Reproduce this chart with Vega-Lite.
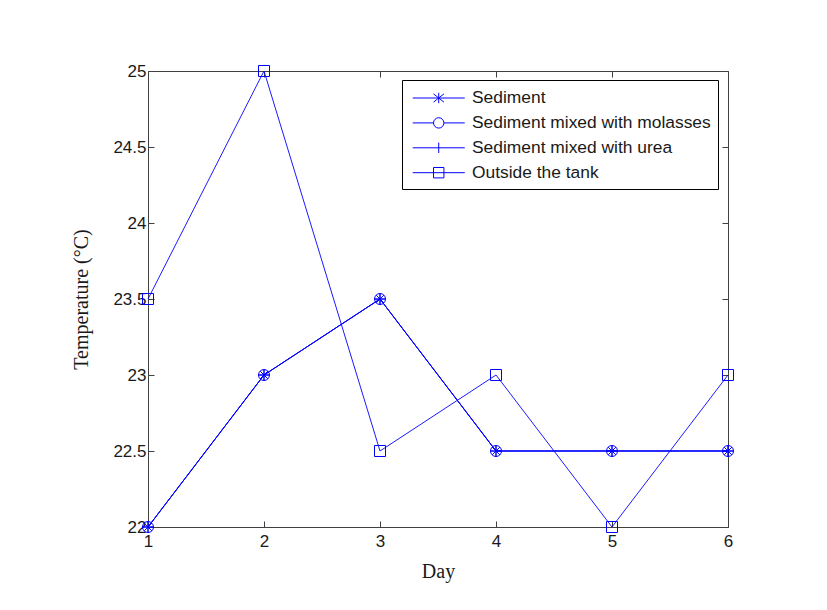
{
  "$schema": "https://vega.github.io/schema/vega-lite/v6.json",
  "autosize": {"type": "none"},
  "width": 580,
  "height": 456,
  "padding": {"left": 148, "top": 71, "right": 99, "bottom": 83},
  "background": "white",
  "config": {
    "view": {"stroke": null},
    "axis": {
      "domainColor": "#404040",
      "tickColor": "#404040",
      "domainWidth": 1,
      "tickWidth": 1,
      "grid": false,
      "labelFont": "Liberation Sans",
      "labelFontSize": 17,
      "labelColor": "#1a1a1a",
      "titleFont": "Liberation Serif",
      "titleFontSize": 20,
      "titleFontWeight": "normal",
      "titleColor": "#1a1a1a",
      "labelOverlap": false,
      "labelBound": false,
      "labelFlush": false
    }
  },
  "data": {
    "values": [
      {"series": "Sediment", "day": 1, "temp": 22},
      {"series": "Sediment", "day": 2, "temp": 23},
      {"series": "Sediment", "day": 3, "temp": 23.5},
      {"series": "Sediment", "day": 4, "temp": 22.5},
      {"series": "Sediment", "day": 5, "temp": 22.5},
      {"series": "Sediment", "day": 6, "temp": 22.5},
      {"series": "Sediment mixed with molasses", "day": 1, "temp": 22},
      {"series": "Sediment mixed with molasses", "day": 2, "temp": 23},
      {"series": "Sediment mixed with molasses", "day": 3, "temp": 23.5},
      {"series": "Sediment mixed with molasses", "day": 4, "temp": 22.5},
      {"series": "Sediment mixed with molasses", "day": 5, "temp": 22.5},
      {"series": "Sediment mixed with molasses", "day": 6, "temp": 22.5},
      {"series": "Sediment mixed with urea", "day": 1, "temp": 22},
      {"series": "Sediment mixed with urea", "day": 2, "temp": 23},
      {"series": "Sediment mixed with urea", "day": 3, "temp": 23.5},
      {"series": "Sediment mixed with urea", "day": 4, "temp": 22.5},
      {"series": "Sediment mixed with urea", "day": 5, "temp": 22.5},
      {"series": "Sediment mixed with urea", "day": 6, "temp": 22.5},
      {"series": "Outside the tank", "day": 1, "temp": 23.5},
      {"series": "Outside the tank", "day": 2, "temp": 25},
      {"series": "Outside the tank", "day": 3, "temp": 22.5},
      {"series": "Outside the tank", "day": 4, "temp": 23},
      {"series": "Outside the tank", "day": 5, "temp": 22},
      {"series": "Outside the tank", "day": 6, "temp": 23}
    ]
  },
  "layer": [
    {
      "mark": {"type": "line", "color": "#0000ff", "strokeWidth": 0.9},
      "encoding": {
        "x": {"field": "day", "type": "quantitative", "scale": {"domain": [1, 6], "nice": false, "zero": false},
              "axis": {"orient": "bottom", "values": [1, 2, 3, 4, 5, 6], "format": "d", "tickSize": -6, "labelPadding": 12, "title": "Day", "titlePadding": 12}},
        "y": {"field": "temp", "type": "quantitative", "scale": {"domain": [22, 25], "nice": false, "zero": false},
              "axis": {"orient": "left", "values": [22, 22.5, 23, 23.5, 24, 24.5, 25], "format": "~g", "tickSize": -6, "labelPadding": 8, "title": "Temperature (°C)", "titlePadding": 21}},
        "detail": {"field": "series"}
      }
    },
    {
      "mark": {"type": "point", "color": "#0000ff", "filled": false, "size": 121, "strokeWidth": 1, "opacity": 1},
      "encoding": {
        "x": {"field": "day", "type": "quantitative", "scale": {"domain": [1, 6], "nice": false, "zero": false},
              "axis": {"orient": "top", "values": [1, 2, 3, 4, 5, 6], "labels": false, "tickSize": -6, "title": null}},
        "y": {"field": "temp", "type": "quantitative", "scale": {"domain": [22, 25], "nice": false, "zero": false},
              "axis": {"orient": "right", "values": [22, 22.5, 23, 23.5, 24, 24.5, 25], "labels": false, "tickSize": -6, "title": null}},
        "shape": {"field": "series", "type": "nominal",
          "scale": {"domain": ["Sediment", "Sediment mixed with molasses", "Sediment mixed with urea", "Outside the tank"],
                    "range": ["M0,-1L0,1M-1,0L1,0M-0.7,-0.7L0.7,0.7M-0.7,0.7L0.7,-0.7",
                              "M1,0A1,1 0 1,1 -1,0A1,1 0 1,1 1,0Z",
                              "M0,-1L0,1M-1,0L1,0",
                              "M-1,-1L1,-1L1,1L-1,1Z"]},
          "legend": null}
      }
    },
    {
      "transform": [{"filter": "datum.day > 100"}],
      "mark": {"type": "point", "color": "#0000ff", "filled": false, "size": 433, "strokeWidth": 1},
      "encoding": {
        "x": {"field": "day", "type": "quantitative", "scale": {"domain": [1, 6], "nice": false, "zero": false}, "axis": null},
        "y": {"field": "temp", "type": "quantitative", "scale": {"domain": [22, 25], "nice": false, "zero": false}, "axis": null},
        "shape": {"field": "series", "type": "nominal",
          "scale": {"domain": ["Sediment", "Sediment mixed with molasses", "Sediment mixed with urea", "Outside the tank"],
                    "range": ["M-0.7,0L4.3,0M1.8,-0.5L1.8,0.5M1.3,-0.4L2.3,0.4M1.3,0.4L2.3,-0.4",
                              "M-0.7,0L1.3,0M2.3,0L4.3,0M2.3,0A0.5,0.5 0 1,1 1.3,0A0.5,0.5 0 1,1 2.3,0Z",
                              "M-0.7,0L4.3,0M1.8,-0.5L1.8,0.5",
                              "M-0.7,0L4.3,0M1.3,-0.5L2.3,-0.5L2.3,0.5L1.3,0.5Z"]},
          "legend": {
            "title": null,
            "orient": "none",
            "legendX": 254,
            "legendY": 9,
            "strokeColor": "#000000",
            "fillColor": "#ffffff",
            "padding": 7,
            "rowPadding": 4.9,
            "labelFont": "Liberation Sans",
            "labelFontSize": 17.4,
            "labelColor": "#1a1a1a",
            "labelOffset": 41,
            "labelLimit": 400,
            "symbolSize": 433,
            "symbolStrokeColor": "#0000ff",
            "symbolFillColor": "transparent",
            "symbolStrokeWidth": 1,
            "symbolOpacity": 1
          }}
      }
    }
  ],
  "resolve": {
    "scale": {"shape": "independent"},
    "legend": {"shape": "independent"},
    "axis": {"x": "independent", "y": "independent"}
  }
}
